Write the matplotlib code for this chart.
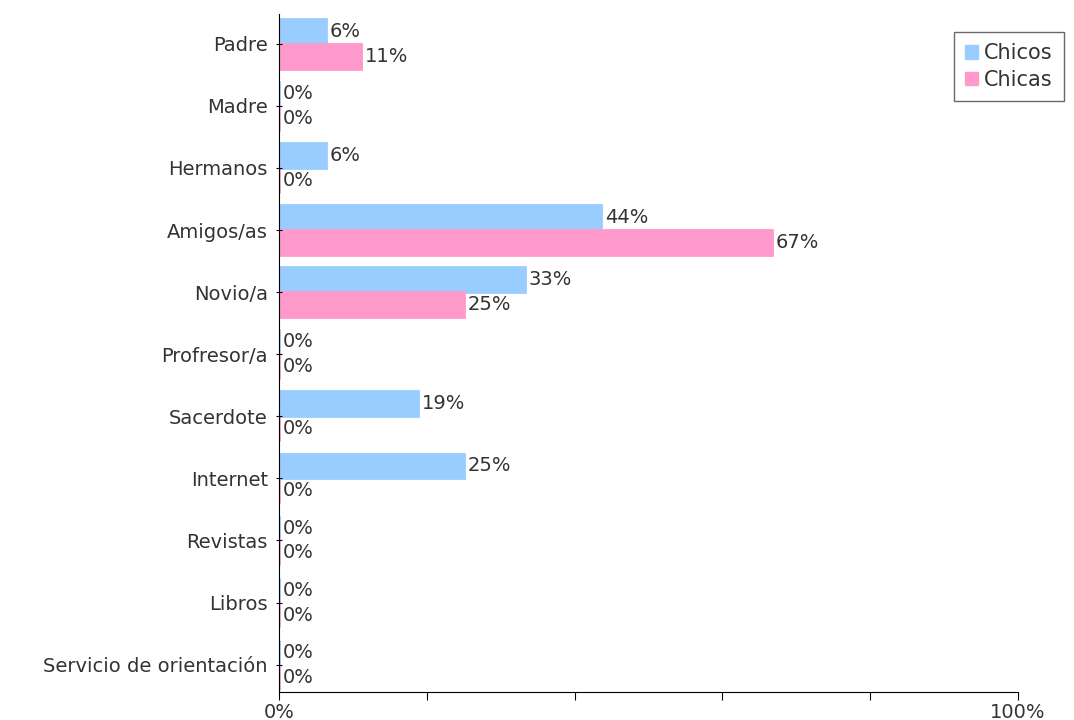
import numpy as np
import matplotlib.pyplot as plt
from matplotlib.patches import Patch

categorias = ['Padre', 'Madre', 'Hermanos', 'Amigos/as', 'Novio/a', 'Profresor/a',
              'Sacerdote', 'Internet', 'Revistas', 'Libros', 'Servicio de orientación']
chicos = [6.3, 0, 6.3, 43.6, 33.3, 0, 18.8, 25, 0, 0, 0]
chicas = [11.1, 0, 0, 66.7, 25, 0, 0, 0, 0, 0, 0]

azul = '#99ccff'
rosa = '#ff99cc'
gris = '#333333'
fs = 14

fig = plt.figure(figsize=(10.74, 7.2), dpi=100)
ax = fig.add_axes([0.2598, 0.0389, 0.688, 0.9417])

y = np.arange(len(categorias))
h = 0.4
ax.barh(y - h / 2, chicos, height=h, color=azul, edgecolor=azul, linewidth=2)
ax.barh(y + h / 2, chicas, height=h, color=rosa, edgecolor=rosa, linewidth=2)

for i in range(len(categorias)):
    ax.text(chicos[i] + 0.5, y[i] - h / 2, f'{round(chicos[i])}%', va='center', ha='left',
            fontsize=fs, color=gris)
    ax.text(chicas[i] + 0.5, y[i] + h / 2, f'{round(chicas[i])}%', va='center', ha='left',
            fontsize=fs, color=gris)

ax.set_ylim(10.44, -0.48)
ax.set_xlim(0, 100)
ax.set_yticks(y)
ax.set_yticklabels(categorias, fontsize=fs, color=gris)
ax.set_xticks([0, 20, 40, 60, 80, 100])
ax.set_xticklabels(['0%', '', '', '', '', '100%'], fontsize=fs, color=gris)
ax.tick_params(axis='y', length=4, direction='inout', pad=6)
ax.tick_params(axis='x', length=6, direction='out', pad=2)
for s in ['top', 'right']:
    ax.spines[s].set_visible(False)

handles = [Patch(color=azul, label='Chicos'), Patch(color=rosa, label='Chicas')]
leg = fig.legend(handles=handles, loc='upper right', bbox_to_anchor=(0.9907, 0.9556),
                 borderaxespad=0, fontsize=15, fancybox=False, edgecolor='#444444',
                 handlelength=0.6, handleheight=0.6, handletextpad=0.3, borderpad=0.55,
                 labelspacing=0.3, labelcolor=gris)
leg.get_frame().set_linewidth(1)

fig.savefig('out.png', dpi=100)
